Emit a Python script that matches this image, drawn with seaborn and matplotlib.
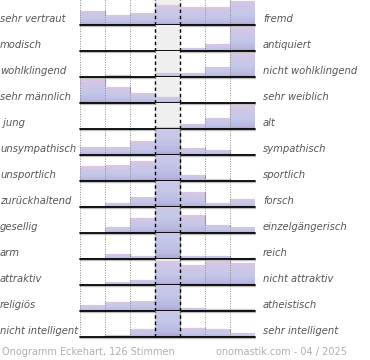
import numpy as np
import seaborn as sns
import matplotlib.pyplot as plt
from matplotlib.colors import LinearSegmentedColormap

# Eigenschaftspaare (links / rechts)
links = ['sehr vertraut', 'modisch', 'wohlklingend', 'sehr männlich', ' jung',
         'unsympathisch', 'unsportlich', 'zurückhaltend', 'gesellig', 'arm',
         'attraktiv', 'religiös', 'nicht intelligent']
rechts = ['fremd', 'antiquiert', 'nicht wohlklingend', 'sehr weiblich', 'alt',
          'sympathisch', 'sportlich', 'forsch', 'einzelgängerisch', 'reich',
          'nicht attraktiv', 'atheistisch', 'sehr intelligent']

# Balkenhöhen je Zeile (7 Stufen); Werte > 25 werden abgeschnitten
stufen = [0, 1, 2, 3, 4, 5, 6]
werte = [
    [14.3, 10.3, 12.3, 19.7, 17.7, 17.7, 24.5],
    [0, 0.5, 0, 0, 3.3, 6.7, 24.5],
    [0, 2.3, 0, 3.7, 4.3, 10.3, 24.5],
    [24.5, 15.7, 10.0, 5.7, 0.7, 0, 0],
    [0, 0, 0, 2.3, 5.3, 11.3, 24.5],
    [8.0, 8.0, 13.7, 38, 6.7, 5.3, 1.3],
    [14.7, 15.7, 19.7, 40, 6.3, 1.7, 0],
    [1.0, 4.3, 10.3, 38, 14.7, 4.3, 7.7],
    [0, 6.3, 15.3, 36, 17.7, 8.3, 6.3],
    [1.3, 4.7, 3.3, 42, 3.3, 3.3, 1.0],
    [0, 3.0, 5.3, 24.5, 19.7, 24.5, 21.7],
    [5.7, 8.7, 10.3, 40, 3.3, 2.3, 2.3],
    [0, 1.7, 7.7, 40, 8.7, 7.7, 3.7],
]

sns.set_style("white")
plt.rcParams['font.family'] = ['DejaVu Sans']

verlauf = LinearSegmentedColormap.from_list(
    'verlauf', [(0.0, '#a8a2d4'), (0.12, '#bab9e2'), (0.45, '#c4c9e9'),
                (0.75, '#cfc6e6'), (1.0, '#ddc6e3')])

W, H = 370, 360
OBEN = 25.6
fig = plt.figure(figsize=(W / 100, H / 100), dpi=100)

for k in range(len(links)):
    basis = 25 + 26 * k
    ax = fig.add_axes([79.5 / W, 1 - basis / H, 175 / W, 26 / H])
    sichtbar = [min(v, OBEN) for v in werte[k]]
    sns.barplot(x=stufen, y=sichtbar, color='#c4c9e9', width=1.0, ax=ax,
                edgecolor='#9c9c9c', linewidth=0.8, zorder=2)
    for p, v in zip(ax.containers[0].patches, werte[k]):
        x0, h = p.get_x(), p.get_height()
        if h <= 0 or v <= 0:
            continue
        grad = np.linspace(0, h / v, 100).reshape(-1, 1)
        im = ax.imshow(grad, cmap=verlauf, vmin=0, vmax=1, origin='lower',
                       aspect='auto', extent=(x0, x0 + p.get_width(), 0, h),
                       zorder=2.5)
        im.set_clip_path(p)
    ax.axvspan(2.5, 3.5, color='#efefef', zorder=0, lw=0)
    for xv in [-0.5, 0.5, 1.5, 4.5, 5.5, 6.5]:
        ax.axvline(xv, color='#8a8a8a', lw=0.7, ls=(0, (1, 1.5)), zorder=4)
    for xv in [2.5, 3.5]:
        ax.axvline(xv, color='black', lw=1.0, ls=(0, (2.5, 2)), zorder=5)
    ax.plot([-0.5, 6.5], [-1.3, -1.3], color='#c0c0c0', lw=1.0,
            clip_on=False, zorder=5)
    ax.plot([-0.5, 6.5], [0, 0], color='black', lw=1.3, clip_on=False, zorder=6)
    ax.set_xlim(-0.5, 6.5)
    ax.set_ylim(0, 26)
    ax.set_axis_off()

    fig.text(0 / W, 1 - (basis - 6) / H, links[k], ha='left', va='center',
             fontsize=7.2, style='italic', color='#555555')
    fig.text(263 / W, 1 - (basis - 6) / H, rechts[k], ha='left', va='center',
             fontsize=7.2, style='italic', color='#555555')

fig.text(2 / W, 1 - 352 / H, 'Onogramm Eckehart, 126 Stimmen', ha='left',
         va='center', fontsize=7, color='#b0b0b0')
fig.text(347 / W, 1 - 352 / H, 'onomastik.com - 04 / 2025', ha='right',
         va='center', fontsize=7, color='#b0b0b0')

fig.savefig('out.png', dpi=100)
